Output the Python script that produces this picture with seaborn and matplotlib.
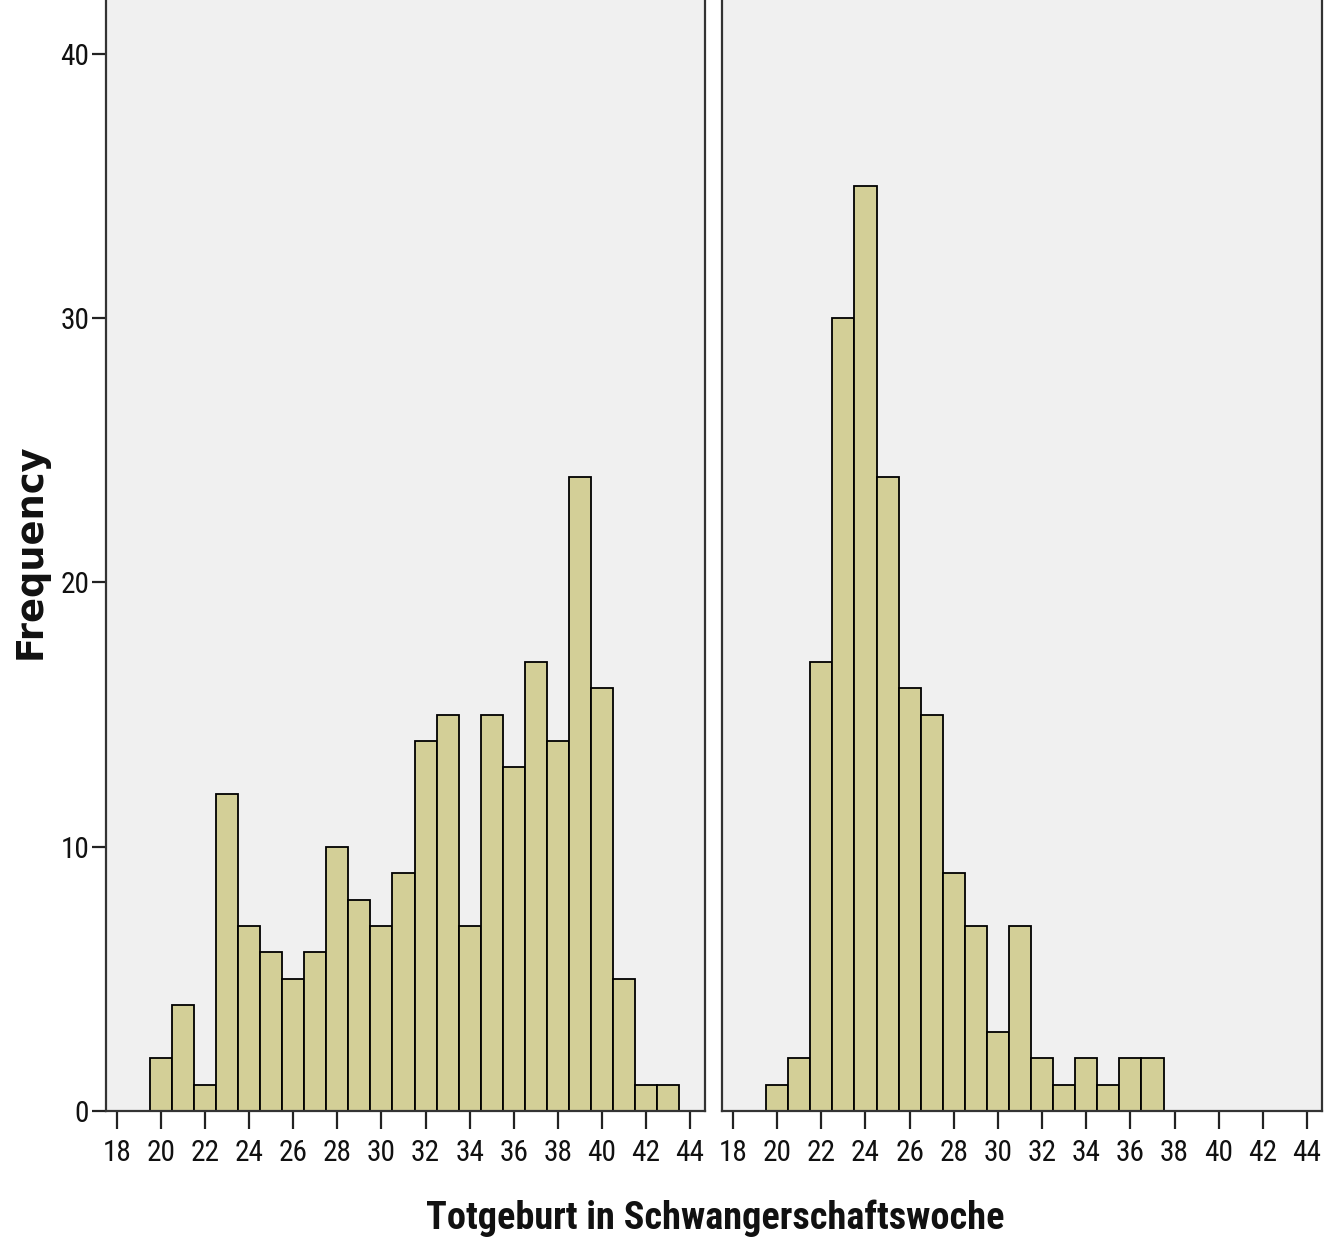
import matplotlib
matplotlib.use("Agg")
import matplotlib.pyplot as plt
from matplotlib import font_manager
import seaborn as sns
import numpy as np

# ---- data ----
weeks_left = [20, 21, 22, 23, 24, 25, 26, 27, 28, 29, 30, 31, 32, 33, 34, 35, 36, 37, 38, 39, 40, 41, 42, 43]
counts_left = [2, 4, 1, 12, 7, 6, 5, 6, 10, 8, 7, 9, 14, 15, 7, 15, 13, 17, 14, 24, 16, 5, 1, 1]
weeks_right = [20, 21, 22, 23, 24, 25, 26, 27, 28, 29, 30, 31, 32, 33, 34, 35, 36, 37]
counts_right = [1, 2, 17, 30, 35, 24, 16, 15, 9, 7, 3, 7, 2, 1, 2, 1, 2, 2]
x_ticks = list(range(18, 45, 2))
y_ticks = [0, 10, 20, 30, 40]
x_label = "Totgeburt in Schwangerschaftswoche"
y_label = "Frequency"

sns.set_theme(style="white")

# pick a narrow family if one is installed
names = {f.name for f in font_manager.fontManager.ttflist}
narrow = None
for cand in ["Liberation Sans Narrow", "Arial Narrow", "Roboto Condensed", "Open Sans Condensed"]:
    if cand in names:
        narrow = cand
        break
fam = ([narrow] if narrow else []) + ["Liberation Sans", "DejaVu Sans"]
plt.rcParams['font.family'] = fam

fig = plt.figure(figsize=(13.26, 12.46), dpi=100)
W, H = 1326, 1246
renderer = fig.canvas.get_renderer()


def fit_size(text, target_px, weight="normal", family=fam, base=20.0):
    t = fig.text(0, 0, text, fontsize=base, fontweight=weight, family=family)
    w = t.get_window_extent(renderer=renderer).width
    t.remove()
    return base * target_px / w


tick_size = min(22.0, fit_size("18", 29.0))
title_size = fit_size(x_label, 575.0, weight="bold")

bottom = (H - 1111) / H
height = 1111 / H
ax1 = fig.add_axes([106 / W, bottom, 599 / W, height])
ax2 = fig.add_axes([722 / W, bottom, 600 / W, height])

bar_color = "#D3CF97"
bg = "#F0F0F0"

for ax, wk, ct in [(ax1, weeks_left, counts_left), (ax2, weeks_right, counts_right)]:
    sns.histplot(x=wk, weights=ct, discrete=True, color=bar_color, edgecolor="black",
                 linewidth=1.3, alpha=1, ax=ax)
    ax.set_facecolor(bg)
    ax.set_xlim(17.5, 44.68)
    ax.set_ylim(0, 42.04)
    ax.set_xticks(x_ticks)
    ax.set_xticklabels([str(t) for t in x_ticks], fontsize=tick_size)
    ax.tick_params(axis="x", direction="out", length=13, width=1.6, pad=7,
                   color="#222222", labelcolor="#111111", bottom=True)
    ax.set_xlabel("")
    ax.set_ylabel("")
    for s in ["left", "right", "bottom"]:
        ax.spines[s].set_visible(True)
        ax.spines[s].set_color("#333333")
        ax.spines[s].set_linewidth(1.6)
    ax.spines["top"].set_visible(False)
    ax.grid(False)

ax1.set_yticks(y_ticks)
ax1.set_yticklabels([str(t) for t in y_ticks], fontsize=tick_size)
ax1.tick_params(axis="y", direction="out", length=10, width=1.6, pad=2,
                color="#222222", labelcolor="#111111", left=True)
ax2.set_yticks([])
ax2.tick_params(axis="y", left=False, labelleft=False)

fig.text(715 / W, 1 - 1218 / H, x_label, ha="center", va="center",
         fontsize=title_size, fontweight="bold", color="#111111", family=fam)
fig.text(30 / W, 1 - 551 / H, y_label, ha="center", va="center", rotation=90,
         fontsize=26.5, fontweight="bold", color="#111111", family=['DejaVu Sans'])

fig.savefig("out.png", dpi=100, facecolor="white")
